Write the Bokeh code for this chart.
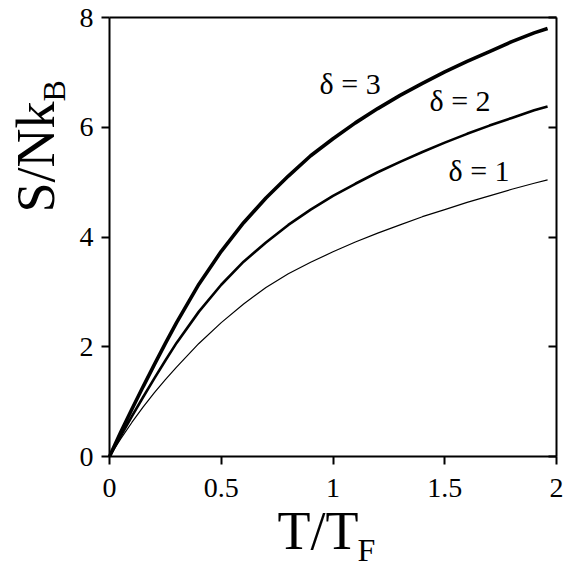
from bokeh.plotting import figure
from bokeh.models import Label, LinearAxis, Range1d, FixedTicker
from bokeh.embed import file_html
from bokeh.resources import INLINE

# T/T_F values
t_vals = [0, 0.05, 0.1, 0.15, 0.2, 0.25, 0.3, 0.4, 0.5, 0.6, 0.7, 0.8, 0.9, 1.0,
          1.1, 1.2, 1.3, 1.4, 1.5, 1.6, 1.7, 1.8, 1.9, 1.96]
# S/NkB for delta = 3, 2, 1
s_delta3 = [0, 0.44, 0.86, 1.27, 1.67, 2.06, 2.44, 3.14, 3.74, 4.26, 4.71, 5.11, 5.48, 5.79,
            6.08, 6.34, 6.58, 6.80, 7.01, 7.20, 7.38, 7.56, 7.72, 7.80]
s_delta2 = [0, 0.37, 0.73, 1.08, 1.42, 1.75, 2.07, 2.64, 3.13, 3.55, 3.90, 4.22, 4.50, 4.75,
            4.97, 5.18, 5.37, 5.55, 5.72, 5.88, 6.03, 6.17, 6.31, 6.38]
s_delta1 = [0, 0.32, 0.62, 0.90, 1.16, 1.40, 1.63, 2.06, 2.44, 2.78, 3.08, 3.33, 3.54, 3.73,
            3.91, 4.07, 4.22, 4.37, 4.50, 4.63, 4.75, 4.87, 4.98, 5.04]

x_ticks = [0, 0.5, 1, 1.5, 2]
x_tick_labels = {0: "0", 0.5: "0.5", 1: "1", 1.5: "1.5", 2: "2"}
y_ticks = [0, 2, 4, 6, 8]
x_min, x_max = 0, 2
y_min, y_max = 0, 8

curve_labels = ["δ = 3", "δ = 2", "δ = 1"]
curve_widths = [3.6, 2.6, 1.2]

FONT = "Liberation Serif"

# frame covers the full canvas; axes are pinned at data locations
p = figure(width=566, height=568, output_backend="svg", toolbar_location=None,
           x_range=Range1d(-0.4877, 2.0447), y_range=Range1d(-2.041, 8.3098),
           x_axis_location=None, y_axis_location=None, min_border=0)
p.background_fill_color = "white"
p.border_fill_color = "white"
p.outline_line_color = None
p.xgrid.visible = False
p.ygrid.visible = False


def make_axis(ticker, loc, bounds, tick_in, tick_out, labels=None):
    ax = LinearAxis(ticker=FixedTicker(ticks=ticker), fixed_location=loc, bounds=bounds,
                    axis_line_width=2, axis_line_color="black",
                    major_tick_line_width=2, major_tick_in=tick_in, major_tick_out=tick_out,
                    minor_tick_line_color=None,
                    major_label_text_font=FONT, major_label_text_font_size="28px",
                    major_label_text_color="black")
    if labels is not None:
        ax.major_label_overrides = labels
    return ax


bottom = make_axis(x_ticks, y_min, (x_min, x_max), 0, 8, x_tick_labels)
bottom.major_label_standoff = 14
p.add_layout(bottom, "below")

left = make_axis(y_ticks, x_min, (y_min, y_max), 0, 8)
left.major_label_standoff = 8
p.add_layout(left, "left")

top = make_axis([], y_max, (x_min, x_max), 0, 0)
p.add_layout(top, "above")

right = make_axis(y_ticks, x_max, (y_min, y_max), 8, 0, {t: "" for t in y_ticks})
right.major_label_standoff = 0
p.add_layout(right, "right")

for ys, w in zip([s_delta3, s_delta2, s_delta1], curve_widths):
    p.line(t_vals, ys, line_color="black", line_width=w)

# curve labels (data coords, anchored at text middle)
label_pos = [(0.94, 6.80), (1.432, 6.49), (1.517, 5.21)]
for txt, (lx, ly) in zip(curve_labels, label_pos):
    p.add_layout(Label(x=lx, y=ly, text=txt, text_font=FONT, text_font_size="30px",
                       text_color="black", text_baseline="middle", text_align="left"))

# axis titles built from labels (with subscripts)
titles = [
    dict(x=0.752, y=-1.349, text="T/T", size="54px", angle=0),
    dict(x=1.11, y=-1.70, text="F", size="32px", angle=0),
    dict(x=-0.331, y=4.446, text="S/Nk", size="54px", angle=1.5708),
    dict(x=-0.249, y=6.469, text="B", size="32px", angle=1.5708),
]
for t in titles:
    p.add_layout(Label(x=t["x"], y=t["y"], text=t["text"], text_font=FONT,
                       text_font_size=t["size"], text_color="black",
                       text_baseline="middle", text_align="left",
                       angle=t["angle"]))

open("out.html", "w").write(file_html(p, INLINE))
